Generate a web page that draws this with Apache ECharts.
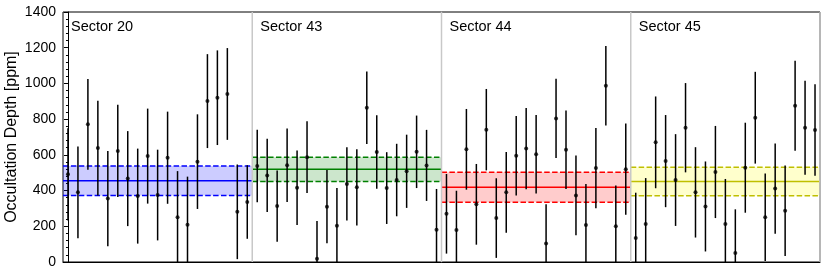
<!DOCTYPE html>
<html><head><meta charset="utf-8">
<script src="https://cdn.jsdelivr.net/npm/echarts@6/dist/echarts.min.js"></script>
<style>html,body{margin:0;padding:0;background:#fff}#c{width:830px;height:277px}</style>
</head><body><div id="c"></div>
<script>
const sectorNames = ['Sector 20', 'Sector 43', 'Sector 44', 'Sector 45'];
const s20Depth = [491,390,771,638,355,622,467,369,593,375,584,250,209,562,901,920,941,281,336];
const s20Err   = [258,257,254,265,267,258,266,266,266,254,258,259,269,265,263,265,257,265,206];
const s43Depth = [537,485,313,542,416,587,18,310,203,437,418,864,616,414,459,508,617,541,181];
const s43Err   = [203,205,200,206,209,201,211,205,211,205,213,203,206,201,203,205,203,199,228];
const s44Depth = [270,179,631,323,741,246,390,595,635,603,103,804,629,373,207,526,987,200,520];
const s44Err   = [223,220,226,226,228,223,226,222,228,220,220,222,220,223,230,225,223,229,256];
const s45Depth = [134,213,670,565,459,752,390,311,504,213,50,528,808,250,411,287,875,752,739];
const s45Err   = [254,257,257,258,257,250,253,252,258,252,245,252,257,245,253,253,252,263,256];
const bandMean = [455, 519, 419, 451];
const bandErr  = [82, 68, 84, 80];
const yTicks = [0, 200, 400, 600, 800, 1000, 1200, 1400];

const depths = [s20Depth, s43Depth, s44Depth, s45Depth];
const errs = [s20Err, s43Err, s44Err, s45Err];
const perSector = 19;
const total = perSector * 4;

const lineColors = ['#0000ff', '#008000', '#ff0000', '#bfbf00'];
const fillColors = ['rgba(0,0,255,0.2)', 'rgba(0,128,0,0.2)', 'rgba(255,0,0,0.2)', 'rgba(255,255,0,0.2)'];

const pts = [];
depths.forEach((arr, s) => arr.forEach((v, i) => pts.push([s * perSector + i, v, errs[s][i]])));
const bands = bandMean.map((m, s) => [s * perSector - 0.5, (s + 1) * perSector - 0.5, m, bandErr[s], s]);

const FONT = 'Liberation Sans, Arial, sans-serif';
const chart = echarts.init(document.getElementById('c'), null, {renderer: 'canvas'});
const yMin = 0, yMax = 1400;
chart.setOption({
  animation: false,
  backgroundColor: '#fff',
  grid: {left: 63, right: 10, top: 12, bottom: 15, containLabel: false, outerBoundsMode: 'none',
         show: true, borderColor: '#000', borderWidth: 1, backgroundColor: 'transparent'},
  xAxis: {type: 'value', min: -0.5, max: total - 0.5, axisLabel: {show: false}, axisTick: {show: false},
          splitLine: {show: false}, axisLine: {show: true, lineStyle: {color: '#000', width: 1}}},
  yAxis: {type: 'value', min: yMin, max: yMax, interval: 200,
          name: 'Occultation Depth [ppm]', nameLocation: 'middle', nameGap: 43, nameMoveOverlap: false,
          nameTextStyle: {fontFamily: FONT, fontSize: 16, color: '#000'},
          axisLine: {show: true, lineStyle: {color: '#000', width: 1}},
          axisTick: {show: true, length: 4, lineStyle: {color: '#000'}},
          minorTick: {show: true, splitNumber: 5, length: 2, lineStyle: {color: '#000'}},
          splitLine: {show: false},
          axisLabel: {fontFamily: FONT, fontSize: 14, color: '#000', margin: 7,
                      formatter: v => yTicks.includes(v) ? String(v) : ''}},
  series: [
    {
      type: 'custom', z: 1, clip: true,
      data: bands,
      renderItem: (params, api) => {
        const x0 = api.value(0), x1 = api.value(1), m = api.value(2), e = api.value(3), s = api.value(4);
        const pTL = api.coord([x0, m + e]);
        const pBR = api.coord([x1, m - e]);
        const pM0 = api.coord([x0, m]), pM1 = api.coord([x1, m]);
        const c = lineColors[s];
        const dash = [5.5, 2.4];
        return {type: 'group', children: [
          {type: 'rect', shape: {x: pTL[0], y: pTL[1], width: pBR[0] - pTL[0], height: pBR[1] - pTL[1]},
           style: {fill: fillColors[s]}},
          {type: 'line', shape: {x1: pTL[0], y1: pTL[1], x2: pBR[0], y2: pTL[1]},
           style: {stroke: c, lineWidth: 1.5, lineDash: dash}},
          {type: 'line', shape: {x1: pTL[0], y1: pBR[1], x2: pBR[0], y2: pBR[1]},
           style: {stroke: c, lineWidth: 1.5, lineDash: dash}},
          {type: 'line', shape: {x1: pM0[0], y1: pM0[1], x2: pM1[0], y2: pM1[1]},
           style: {stroke: c, lineWidth: 1.5}}
        ]};
      }
    },
    {
      type: 'custom', z: 2, silent: true,
      data: bands,
      renderItem: (params, api) => {
        const x0 = api.value(0), x1 = api.value(1), s = api.value(4);
        const top = api.coord([x0, yMax]);
        const bot = api.coord([x0, yMin]);
        const children = [{type: 'text', x: top[0] + 8, y: top[1] + 7,
          style: {text: sectorNames[s], fontFamily: FONT, fontSize: 14.5, fill: '#000', textAlign: 'left', textVerticalAlign: 'top'}}];
        const r = api.coord([x1, yMax]);
        children.push({type: 'line', shape: {x1: r[0], y1: r[1], x2: r[0], y2: bot[1]},
          style: {stroke: '#c8c8c8', lineWidth: 1.5}});
        return {type: 'group', children};
      }
    },
    {
      type: 'custom', z: 3,
      data: pts,
      renderItem: (params, api) => {
        const x = api.value(0), v = api.value(1), e = api.value(2);
        const lo = Math.max(v - e, yMin), hi = Math.min(v + e, yMax);
        const a = api.coord([x, hi]), b = api.coord([x, lo]);
        return {type: 'line', shape: {x1: a[0], y1: a[1], x2: b[0], y2: b[1]},
                style: {stroke: '#000', lineWidth: 1.5}};
      }
    },
    {
      type: 'scatter', z: 4, symbol: 'circle', symbolSize: 4,
      itemStyle: {color: '#000'},
      data: pts.map(p => [p[0], p[1]])
    }
  ]
});
</script></body></html>
